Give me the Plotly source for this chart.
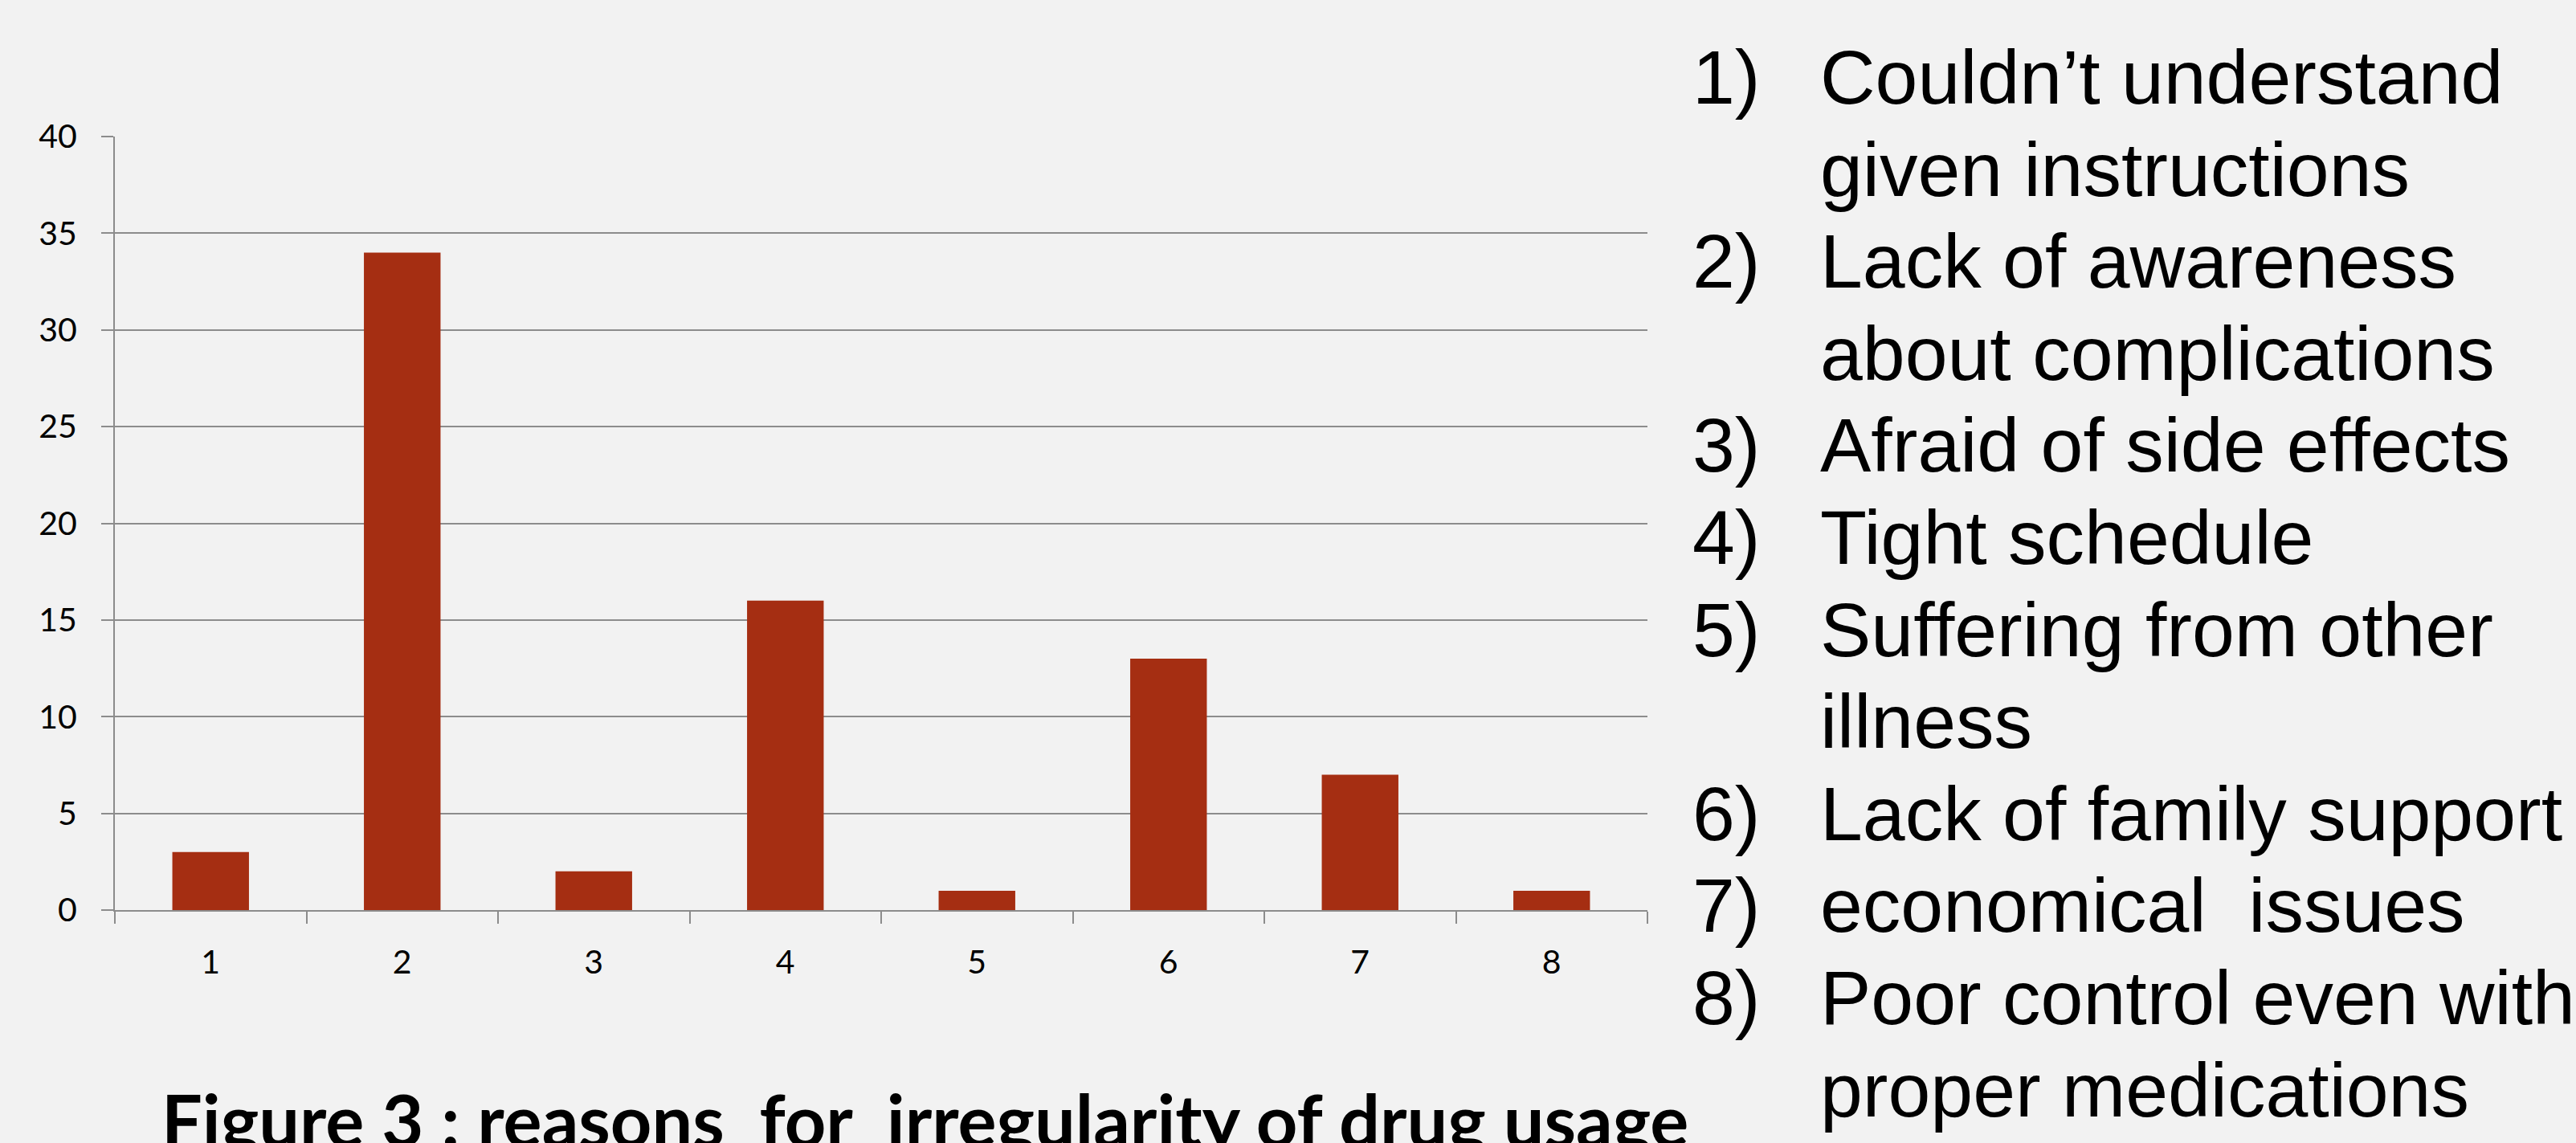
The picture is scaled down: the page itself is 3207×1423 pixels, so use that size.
import plotly.graph_objects as go

W, H = 3207, 1423

categories = ["1", "2", "3", "4", "5", "6", "7", "8"]
counts = [3, 34, 2, 16, 1, 13, 7, 1]
y_ticks = [0, 5, 10, 15, 20, 25, 30, 35, 40]

list_numbers = ["1)", "", "2)", "", "3)", "4)", "5)", "", "6)", "7)", "8)", ""]
list_lines = [
    "Couldn’t understand",
    "given instructions",
    "Lack of awareness",
    "about complications",
    "Afraid of side effects",
    "Tight schedule",
    "Suffering from other",
    "illness",
    "Lack of family support",
    "economical  issues",
    "Poor control even with",
    "proper medications",
]
title_text = "Figure 3 : reasons  for  irregularity of drug usage"

BG = "#F2F2F2"
BAR = "#A52E12"
GRID = "#8C8C8C"
TICKFONT = dict(family="Lato, Open Sans, sans-serif", size=41, color="#000")

fig = go.Figure()
fig.add_trace(go.Bar(x=categories, y=counts, marker=dict(color=BAR, line=dict(width=0)),
                     width=0.4))

# plot area pixel geometry
x0, x1 = 143, 2051
y_top, y_bot = 170, 1133

fig.update_layout(
    width=W, height=H, autosize=False,
    margin=dict(l=0, r=0, t=0, b=0, pad=0),
    paper_bgcolor=BG, plot_bgcolor=BG,
    showlegend=False,
    xaxis=dict(
        domain=[x0 / W, x1 / W],
        type="category",
        tickson="boundaries",
        automargin=False,
        ticks="outside", ticklen=15, tickwidth=2, tickcolor=GRID,
        showline=True, linecolor=GRID, linewidth=2,
        showgrid=False,
        tickfont=TICKFONT,
        ticklabelstandoff=28,
    ),
    yaxis=dict(
        domain=[1 - y_bot / H, 1 - y_top / H],
        range=[0, 40],
        tickvals=y_ticks,
        automargin=False,
        ticks="outside", ticklen=15, tickwidth=2, tickcolor=GRID,
        showline=True, linecolor=GRID, linewidth=2,
        showgrid=True, gridcolor=GRID, gridwidth=2,
        zeroline=False,
        tickfont=TICKFONT,
        ticklabelstandoff=22,
    ),
)

list_font = dict(family="Liberation Sans, Arial, sans-serif", size=95, color="#000")
num_x, text_x = 2105, 2264
y_first, y_step = 96, 114.6
for i, (num, line) in enumerate(zip(list_numbers, list_lines)):
    yc = 1 - (y_first + i * y_step) / H
    if num:
        fig.add_annotation(x=num_x / W, y=yc, xref="paper", yref="paper", text=num,
                           showarrow=False, xanchor="left", yanchor="middle", font=list_font)
    fig.add_annotation(x=text_x / W, y=yc, xref="paper", yref="paper", text=line,
                       showarrow=False, xanchor="left", yanchor="middle", font=list_font)

fig.add_annotation(x=1151 / W, y=1 - 1393 / H, xref="paper", yref="paper",
                   text="<b>" + title_text + "</b>", showarrow=False,
                   xanchor="center", yanchor="middle",
                   font=dict(family="Lato, Roboto, sans-serif", size=90, color="#000"))

fig.write_html(
    "out.html",
    config={"displayModeBar": False},
    post_script="document.body.style.margin='0';document.body.style.overflow='hidden';",
)
